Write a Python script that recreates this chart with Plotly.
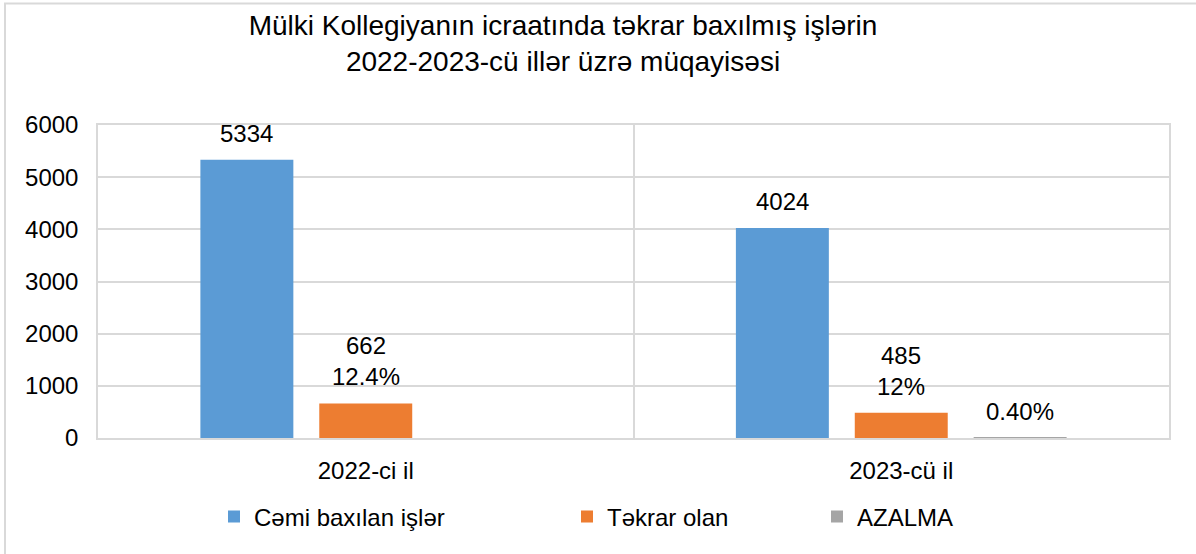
import plotly.graph_objects as go

categories = ["2022-ci il", "2023-cü il"]
total_cases = [5334, 4024]
repeat_cases = [662, 485]
repeat_pct = ["12.4%", "12%"]
decrease = [None, 0.4]
decrease_label = [None, "0.40%"]

series_names = ["Cəmi baxılan işlər", "Təkrar olan", "AZALMA"]
colors = ["#5B9BD5", "#ED7D31", "#A5A5A5"]

W, H = 1196, 554
L, R, T, B = 98, 27, 125, 116
pw, ph = W - L - R, H - T - B
FONT = "Arial, 'Liberation Sans', sans-serif"
fs = 24

bargap = 0.334
bargroupgap = 0.218

def px2x(px):
    return (px - L) / pw

def py2y(py):
    return (H - B - py) / ph

fig = go.Figure()
legend_ids = ["legend", "legend2", "legend3"]
for name, vals, col, lg in zip(series_names, [total_cases, repeat_cases, decrease], colors, legend_ids):
    fig.add_trace(go.Bar(x=categories, y=vals, name=name, marker=dict(color=col, line=dict(width=0)),
                         legend=lg, hoverinfo="skip"))

slot = (1 - bargap) / 3
offsets = [-slot, 0, slot]
annotations = []
texts = [
    [str(v) for v in total_cases],
    [f"{v}<br>{p}" for v, p in zip(repeat_cases, repeat_pct)],
    decrease_label,
]
values = [total_cases, repeat_cases, decrease]
for s in range(3):
    for i in range(len(categories)):
        if texts[s][i] is None:
            continue
        annotations.append(dict(x=i + offsets[s], y=values[s][i] or 0, xref="x", yref="y",
                                text=texts[s][i], showarrow=False, yanchor="bottom", yshift=11,
                                font=dict(family=FONT, size=fs, color="#000000")))

fig.update_layout(
    width=W, height=H,
    margin=dict(l=L, r=R, t=T, b=B),
    paper_bgcolor="white", plot_bgcolor="white",
    barmode="group", bargap=bargap, bargroupgap=bargroupgap,
    font=dict(family=FONT, size=fs, color="#000000"),
    title=dict(text="Mülki Kollegiyanın icraatında təkrar baxılmış işlərin<br>2022-2023-cü illər üzrə müqayisəsi",
               x=px2x(563), xref="paper", xanchor="center", y=1 - 34.5 / H, yref="container", yanchor="middle",
               font=dict(family=FONT, size=28, color="#000000")),
    xaxis=dict(tickson="boundaries", showgrid=True, gridcolor="#d9d9d9", gridwidth=1.5,
               showline=True, linecolor="#d9d9d9", linewidth=1.5, mirror=True, ticks="",
               ticklabelstandoff=10, tickfont=dict(size=fs), layer="above traces"),
    yaxis=dict(range=[0, 6000], dtick=1000, showgrid=True, gridcolor="#d9d9d9", gridwidth=1.5,
               showline=True, linecolor="#d9d9d9", linewidth=1.5, mirror=True, ticks="",
               zeroline=False, ticklabelstandoff=13, tickfont=dict(size=fs)),
    annotations=annotations,
    showlegend=True,
    legend=dict(x=px2x(214), y=py2y(517), xanchor="left", yanchor="middle", orientation="h",
                font=dict(size=fs), bgcolor="rgba(0,0,0,0)"),
    legend2=dict(x=px2x(567), y=py2y(517), xanchor="left", yanchor="middle", orientation="h",
                 font=dict(size=fs), bgcolor="rgba(0,0,0,0)"),
    legend3=dict(x=px2x(817), y=py2y(517), xanchor="left", yanchor="middle", orientation="h",
                 font=dict(size=fs), bgcolor="rgba(0,0,0,0)"),
    shapes=[dict(type="rect", xref="paper", yref="paper",
                 x0=px2x(5), x1=px2x(1230), y0=py2y(600), y1=py2y(3.5),
                 line=dict(color="#d9d9d9", width=2), fillcolor="rgba(0,0,0,0)", layer="below")],
)

fig.write_html("out.html", config={"displayModeBar": False},
               post_script="document.body.style.margin='0';")
